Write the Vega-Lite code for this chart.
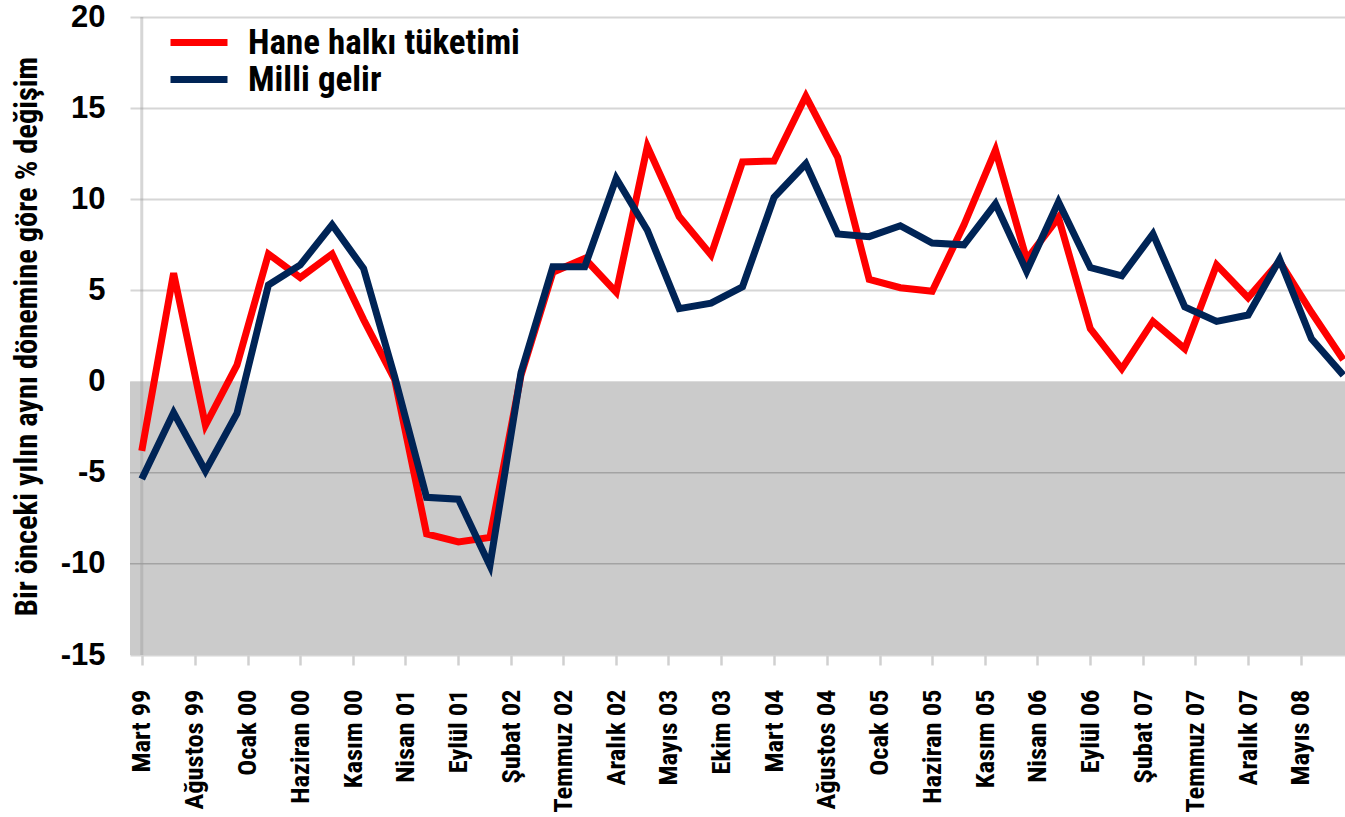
{
  "$schema": "https://vega.github.io/schema/vega-lite/v6.json",
  "width": 1215,
  "height": 638,
  "autosize": "none",
  "padding": {"left": 130, "top": 17, "right": 0, "bottom": 162},
  "background": "white",
  "config": {
    "view": {"stroke": null},
    "font": "Roboto Condensed, Liberation Sans Narrow, Arial Narrow, DejaVu Sans Condensed, sans-serif"
  },
  "datasets": {
    "seriler": [
      {"date": "1999-03-01", "seri": "Hane halkı tüketimi", "deger": -3.8},
      {"date": "1999-06-01", "seri": "Hane halkı tüketimi", "deger": 5.95},
      {"date": "1999-09-01", "seri": "Hane halkı tüketimi", "deger": -2.4},
      {"date": "1999-12-01", "seri": "Hane halkı tüketimi", "deger": 0.9},
      {"date": "2000-03-01", "seri": "Hane halkı tüketimi", "deger": 7.0},
      {"date": "2000-06-01", "seri": "Hane halkı tüketimi", "deger": 5.7},
      {"date": "2000-09-01", "seri": "Hane halkı tüketimi", "deger": 7.0},
      {"date": "2000-12-01", "seri": "Hane halkı tüketimi", "deger": 3.4},
      {"date": "2001-03-01", "seri": "Hane halkı tüketimi", "deger": 0.1},
      {"date": "2001-06-01", "seri": "Hane halkı tüketimi", "deger": -8.35},
      {"date": "2001-09-01", "seri": "Hane halkı tüketimi", "deger": -8.8},
      {"date": "2001-12-01", "seri": "Hane halkı tüketimi", "deger": -8.55},
      {"date": "2002-03-01", "seri": "Hane halkı tüketimi", "deger": 0.35},
      {"date": "2002-06-01", "seri": "Hane halkı tüketimi", "deger": 6.0},
      {"date": "2002-09-01", "seri": "Hane halkı tüketimi", "deger": 6.75},
      {"date": "2002-12-01", "seri": "Hane halkı tüketimi", "deger": 4.9},
      {"date": "2003-03-01", "seri": "Hane halkı tüketimi", "deger": 12.9},
      {"date": "2003-06-01", "seri": "Hane halkı tüketimi", "deger": 9.05},
      {"date": "2003-09-01", "seri": "Hane halkı tüketimi", "deger": 6.95},
      {"date": "2003-12-01", "seri": "Hane halkı tüketimi", "deger": 12.05},
      {"date": "2004-03-01", "seri": "Hane halkı tüketimi", "deger": 12.1},
      {"date": "2004-06-01", "seri": "Hane halkı tüketimi", "deger": 15.65},
      {"date": "2004-09-01", "seri": "Hane halkı tüketimi", "deger": 12.3},
      {"date": "2004-12-01", "seri": "Hane halkı tüketimi", "deger": 5.6},
      {"date": "2005-03-01", "seri": "Hane halkı tüketimi", "deger": 5.15},
      {"date": "2005-06-01", "seri": "Hane halkı tüketimi", "deger": 4.95},
      {"date": "2005-09-01", "seri": "Hane halkı tüketimi", "deger": 8.6},
      {"date": "2005-12-01", "seri": "Hane halkı tüketimi", "deger": 12.7},
      {"date": "2006-03-01", "seri": "Hane halkı tüketimi", "deger": 6.7},
      {"date": "2006-06-01", "seri": "Hane halkı tüketimi", "deger": 9.0},
      {"date": "2006-09-01", "seri": "Hane halkı tüketimi", "deger": 2.9},
      {"date": "2006-12-01", "seri": "Hane halkı tüketimi", "deger": 0.7},
      {"date": "2007-03-01", "seri": "Hane halkı tüketimi", "deger": 3.3},
      {"date": "2007-06-01", "seri": "Hane halkı tüketimi", "deger": 1.8},
      {"date": "2007-09-01", "seri": "Hane halkı tüketimi", "deger": 6.4},
      {"date": "2007-12-01", "seri": "Hane halkı tüketimi", "deger": 4.6},
      {"date": "2008-03-01", "seri": "Hane halkı tüketimi", "deger": 6.6},
      {"date": "2008-06-01", "seri": "Hane halkı tüketimi", "deger": 3.8},
      {"date": "2008-09-01", "seri": "Hane halkı tüketimi", "deger": 1.2},
      {"date": "1999-03-01", "seri": "Milli gelir", "deger": -5.35},
      {"date": "1999-06-01", "seri": "Milli gelir", "deger": -1.7},
      {"date": "1999-09-01", "seri": "Milli gelir", "deger": -4.9},
      {"date": "1999-12-01", "seri": "Milli gelir", "deger": -1.75},
      {"date": "2000-03-01", "seri": "Milli gelir", "deger": 5.3},
      {"date": "2000-06-01", "seri": "Milli gelir", "deger": 6.4},
      {"date": "2000-09-01", "seri": "Milli gelir", "deger": 8.6},
      {"date": "2000-12-01", "seri": "Milli gelir", "deger": 6.2},
      {"date": "2001-03-01", "seri": "Milli gelir", "deger": 0.25},
      {"date": "2001-06-01", "seri": "Milli gelir", "deger": -6.35},
      {"date": "2001-09-01", "seri": "Milli gelir", "deger": -6.45},
      {"date": "2001-12-01", "seri": "Milli gelir", "deger": -10.1},
      {"date": "2002-03-01", "seri": "Milli gelir", "deger": 0.5},
      {"date": "2002-06-01", "seri": "Milli gelir", "deger": 6.3},
      {"date": "2002-09-01", "seri": "Milli gelir", "deger": 6.3},
      {"date": "2002-12-01", "seri": "Milli gelir", "deger": 11.15},
      {"date": "2003-03-01", "seri": "Milli gelir", "deger": 8.3},
      {"date": "2003-06-01", "seri": "Milli gelir", "deger": 4.0},
      {"date": "2003-09-01", "seri": "Milli gelir", "deger": 4.3},
      {"date": "2003-12-01", "seri": "Milli gelir", "deger": 5.2},
      {"date": "2004-03-01", "seri": "Milli gelir", "deger": 10.1},
      {"date": "2004-06-01", "seri": "Milli gelir", "deger": 11.95},
      {"date": "2004-09-01", "seri": "Milli gelir", "deger": 8.1},
      {"date": "2004-12-01", "seri": "Milli gelir", "deger": 7.95},
      {"date": "2005-03-01", "seri": "Milli gelir", "deger": 8.55},
      {"date": "2005-06-01", "seri": "Milli gelir", "deger": 7.6},
      {"date": "2005-09-01", "seri": "Milli gelir", "deger": 7.5},
      {"date": "2005-12-01", "seri": "Milli gelir", "deger": 9.75},
      {"date": "2006-03-01", "seri": "Milli gelir", "deger": 6.05},
      {"date": "2006-06-01", "seri": "Milli gelir", "deger": 9.85},
      {"date": "2006-09-01", "seri": "Milli gelir", "deger": 6.25},
      {"date": "2006-12-01", "seri": "Milli gelir", "deger": 5.8},
      {"date": "2007-03-01", "seri": "Milli gelir", "deger": 8.1},
      {"date": "2007-06-01", "seri": "Milli gelir", "deger": 4.1},
      {"date": "2007-09-01", "seri": "Milli gelir", "deger": 3.3},
      {"date": "2007-12-01", "seri": "Milli gelir", "deger": 3.65},
      {"date": "2008-03-01", "seri": "Milli gelir", "deger": 6.7},
      {"date": "2008-06-01", "seri": "Milli gelir", "deger": 2.35},
      {"date": "2008-09-01", "seri": "Milli gelir", "deger": 0.35}
    ]
  },
  "data": {"name": "seriler"},
  "layer": [
    {
      "data": {"values": [{}]},
      "mark": {"type": "rect", "color": "#cbcbcb"},
      "encoding": {
        "y": {"datum": 0, "type": "quantitative"},
        "y2": {"datum": -15}
      }
    },
    {
      "data": {"values": [{}]},
      "mark": {"type": "rule", "color": "#a3a3a3", "strokeWidth": 1.5},
      "encoding": {"y": {"datum": -5, "type": "quantitative"}}
    },
    {
      "data": {"values": [{}]},
      "mark": {"type": "rule", "color": "#a3a3a3", "strokeWidth": 1.5},
      "encoding": {"y": {"datum": -10, "type": "quantitative"}}
    },
    {
      "data": {"values": [{}]},
      "mark": {"type": "rule", "color": "#999999", "opacity": 0.4, "strokeWidth": 3},
      "encoding": {"x": {"datum": {"year": 1999, "month": 3, "date": 1, "utc": true}, "type": "temporal"}}
    },
    {
      "mark": {"type": "line", "strokeWidth": 7, "strokeJoin": "miter", "clip": true},
      "encoding": {
        "x": {
          "field": "date",
          "type": "temporal",
          "scale": {
            "type": "utc",
            "domain": [
              {"year": 1999, "month": 1, "date": 26, "utc": true},
              {"year": 2008, "month": 9, "date": 6, "utc": true}
            ]
          },
          "axis": {
            "title": null,
            "grid": false,
            "domain": false,
            "ticks": true,
            "tickColor": "#d0d0d0",
            "tickWidth": 2.5,
            "tickSize": 10,
            "labelAngle": 270,
            "labelAlign": "right",
            "labelBaseline": "middle",
            "labelPadding": 24,
            "labelFontSize": 26.5,
            "labelFontWeight": "bold",
            "labelColor": "#000000",
            "labelOverlap": false,
            "labelBound": false,
            "labelFlush": false,
            "values": [
              {"year": 1999, "month": 3, "date": 1, "utc": true},
              {"year": 1999, "month": 8, "date": 1, "utc": true},
              {"year": 2000, "month": 1, "date": 1, "utc": true},
              {"year": 2000, "month": 6, "date": 1, "utc": true},
              {"year": 2000, "month": 11, "date": 1, "utc": true},
              {"year": 2001, "month": 4, "date": 1, "utc": true},
              {"year": 2001, "month": 9, "date": 1, "utc": true},
              {"year": 2002, "month": 2, "date": 1, "utc": true},
              {"year": 2002, "month": 7, "date": 1, "utc": true},
              {"year": 2002, "month": 12, "date": 1, "utc": true},
              {"year": 2003, "month": 5, "date": 1, "utc": true},
              {"year": 2003, "month": 10, "date": 1, "utc": true},
              {"year": 2004, "month": 3, "date": 1, "utc": true},
              {"year": 2004, "month": 8, "date": 1, "utc": true},
              {"year": 2005, "month": 1, "date": 1, "utc": true},
              {"year": 2005, "month": 6, "date": 1, "utc": true},
              {"year": 2005, "month": 11, "date": 1, "utc": true},
              {"year": 2006, "month": 4, "date": 1, "utc": true},
              {"year": 2006, "month": 9, "date": 1, "utc": true},
              {"year": 2007, "month": 2, "date": 1, "utc": true},
              {"year": 2007, "month": 7, "date": 1, "utc": true},
              {"year": 2007, "month": 12, "date": 1, "utc": true},
              {"year": 2008, "month": 5, "date": 1, "utc": true}
            ],
            "labelExpr": "['Ocak','Şubat','Mart','Nisan','Mayıs','Haziran','Temmuz','Ağustos','Eylül','Ekim','Kasım','Aralık'][utcmonth(datum.value)] + ' ' + utcFormat(datum.value, '%y')"
          }
        },
        "y": {
          "field": "deger",
          "type": "quantitative",
          "scale": {"domain": [-15, 20], "nice": false, "zero": false},
          "axis": {
            "title": "Bir önceki yılın aynı dönemine göre % değişim",
            "titleFontSize": 30.5,
            "titleFontWeight": "bold",
            "titleColor": "#000000",
            "titlePadding": 18,
            "values": [-15, -10, -5, 0, 5, 10, 15, 20],
            "labelExpr": "datum.value < 0 ? '-' + abs(datum.value) : '' + datum.value",
            "grid": true,
            "gridColor": "#d6d6d6",
            "gridWidth": 2,
            "domain": false,
            "ticks": false,
            "labelPadding": 25,
            "labelFontSize": 31,
            "labelFontWeight": "bold",
            "labelColor": "#000000",
            "labelFont": "Liberation Sans, Arial, sans-serif",
            "labelBound": false,
            "labelFlush": false,
            "labelOverlap": false
          }
        },
        "color": {
          "field": "seri",
          "type": "nominal",
          "scale": {
            "domain": ["Hane halkı tüketimi", "Milli gelir"],
            "range": ["#ff0000", "#002456"]
          },
          "legend": {
            "title": null,
            "orient": "none",
            "legendX": 33,
            "legendY": 8,
            "padding": 0,
            "symbolType": "M-1,0H4.7",
            "symbolSize": 400,
            "symbolStrokeWidth": 7,
            "symbolOffset": 0,
            "labelFontSize": 35,
            "labelFontWeight": "bold",
            "labelColor": "#000000",
            "labelOffset": 50,
            "rowPadding": 1,
            "labelLimit": 600
          }
        }
      }
    }
  ]
}
